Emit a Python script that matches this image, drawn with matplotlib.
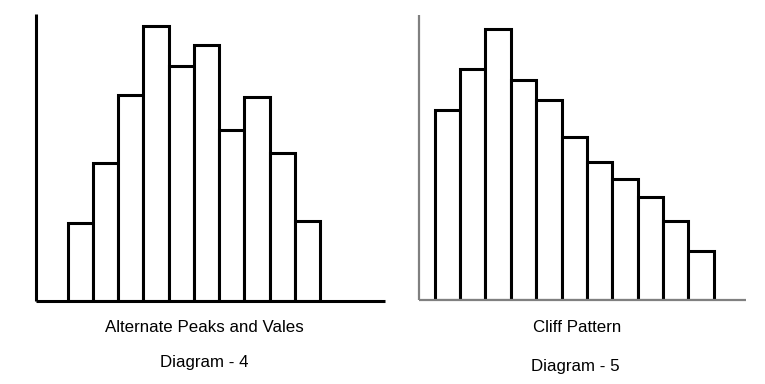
import matplotlib
matplotlib.use("Agg")
import matplotlib.pyplot as plt

plt.rcParams['font.family'] = ['Liberation Sans', 'DejaVu Sans']

# bar heights (pixel-ish units)
peaks_vales = [78, 138, 206, 275, 235, 256, 171, 204, 148, 80]
cliff = [190, 231, 271, 220, 200, 163, 138, 121, 103, 79, 49]

W, H = 765, 384
fig = plt.figure(figsize=(W / 100, H / 100), dpi=100)


def add_axes_px(x0, y0, x1, y1):
    # pixel box (top-left origin) -> figure fraction
    return fig.add_axes([x0 / W, 1 - y1 / H, (x1 - x0) / W, (y1 - y0) / H])


def style(ax, color, lw):
    for s in ['top', 'right']:
        ax.spines[s].set_visible(False)
    for s in ['left', 'bottom']:
        ax.spines[s].set_color(color)
        ax.spines[s].set_linewidth(lw)
        ax.spines[s].set_capstyle('butt')
    ax.set_xticks([])
    ax.set_yticks([])
    ax.patch.set_alpha(0)


# left chart
ax1 = add_axes_px(36, 14, 385, 301)
ax1.bar(range(len(peaks_vales)), peaks_vales, width=1, align='edge',
        facecolor='white', edgecolor='black', linewidth=2.2)
ax1.set_xlim(-1.256, 12.57)
ax1.set_ylim(0, 287)
style(ax1, 'black', 2.2)

# right chart
ax2 = add_axes_px(419, 15, 746, 300)
ax2.bar(range(len(cliff)), cliff, width=1, align='edge',
        facecolor='white', edgecolor='black', linewidth=2.2)
ax2.set_xlim(-0.62, 12.27)
ax2.set_ylim(0, 285)
style(ax2, '#808080', 1.6)

fs = 12.2
fig.text(204 / W, 1 - 327 / H, "Alternate Peaks and Vales", ha='center', va='center', fontsize=fs)
fig.text(204 / W, 1 - 362 / H, "Diagram - 4", ha='center', va='center', fontsize=fs)
fig.text(577 / W, 1 - 327 / H, "Cliff Pattern", ha='center', va='center', fontsize=fs)
fig.text(575 / W, 1 - 367 / H, "Diagram - 5", ha='center', va='center', fontsize=fs)

fig.savefig("out.png", dpi=100, facecolor='white')
